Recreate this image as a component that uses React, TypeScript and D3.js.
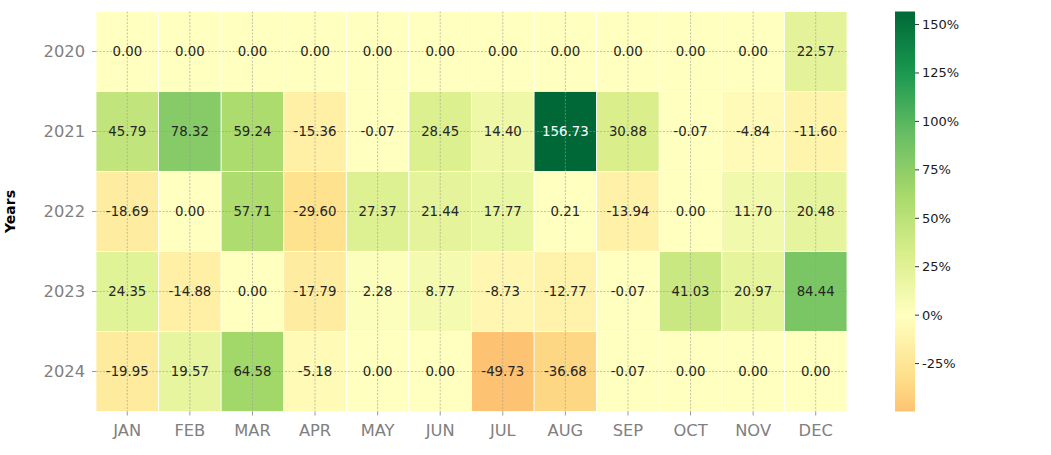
import React from "react";
import * as d3 from "d3";

const months = ["JAN", "FEB", "MAR", "APR", "MAY", "JUN", "JUL", "AUG", "SEP", "OCT", "NOV", "DEC"];
const years = ["2020", "2021", "2022", "2023", "2024"];
const r2020 = [0, 0, 0, 0, 0, 0, 0, 0, 0, 0, 0, 22.57];
const r2021 = [45.79, 78.32, 59.24, -15.36, -0.07, 28.45, 14.4, 156.73, 30.88, -0.07, -4.84, -11.6];
const r2022 = [-18.69, 0.0, 57.71, -29.6, 27.37, 21.44, 17.77, 0.21, -13.94, 0.0, 11.7, 20.48];
const r2023 = [24.35, -14.88, 0.0, -17.79, 2.28, 8.77, -8.73, -12.77, -0.07, 41.03, 20.97, 84.44];
const r2024 = [-19.95, 19.57, 64.58, -5.18, 0, 0, -49.73, -36.68, -0.07, 0, 0, 0];
const rows = [r2020, r2021, r2022, r2023, r2024];
const cbTicks = [-25, 0, 25, 50, 75, 100, 125, 150];

const rdylgn = ["#a50026", "#d73027", "#f46d43", "#fdae61", "#fee08b", "#ffffbf", "#d9ef8b", "#a6d96a", "#66bd63", "#1a9850", "#006837"];

export default function App() {
  const W = 1051, H = 455;
  const left = 96, right = 847, top = 11.5, bottom = 411.5;
  const all = rows.flat();
  const vmin = d3.min(all)!, vmax = d3.max(all)!;
  const center = 0;
  const vr = Math.max(vmax - center, center - vmin);

  const cmap = d3.scaleLinear<string>()
    .domain(rdylgn.map((_, i) => i / (rdylgn.length - 1)))
    .range(rdylgn)
    .interpolate(d3.interpolateRgb)
    .clamp(true);
  const color = (v: number) => cmap(0.5 + (v - center) / (2 * vr));

  const x = d3.scaleBand().domain(months).range([left, right]);
  const y = d3.scaleBand().domain(years).range([top, bottom]);

  const cbX = 895, cbW = 20;
  const cbY = d3.scaleLinear().domain([vmin, vmax]).range([bottom, top]);

  const lum = (c: string) => {
    const rgb = d3.rgb(c);
    const f = (u: number) => {
      u /= 255;
      return u <= 0.03928 ? u / 12.92 : Math.pow((u + 0.055) / 1.055, 2.4);
    };
    return 0.2126 * f(rgb.r) + 0.7152 * f(rgb.g) + 0.0722 * f(rgb.b);
  };

  const stops = d3.range(0, 101).map((i) => {
    const v = vmin + (vmax - vmin) * (i / 100);
    return { off: i, c: color(v) };
  });

  const font = "DejaVu Sans, sans-serif";
  const gray = "#808080";

  return (
    <svg width={W} height={H} style={{ position: "absolute", left: 0, top: 0 }} fontFamily={font}>
      <rect x={0} y={0} width={W} height={H} fill="#fff" />
      <defs>
        <linearGradient id="cbg" x1="0" y1="1" x2="0" y2="0">
          {stops.map((s) => (
            <stop key={s.off} offset={`${s.off}%`} stopColor={s.c} />
          ))}
        </linearGradient>
      </defs>
      {rows.map((r, i) =>
        r.map((v, j) => (
          <rect
            key={`c${i}-${j}`}
            x={x(months[j])!}
            y={y(years[i])!}
            width={x.bandwidth()}
            height={y.bandwidth()}
            fill={color(v)}
            stroke="#fff"
            strokeWidth={0.8}
          />
        ))
      )}
      {months.map((m) => (
        <line key={`gv${m}`} x1={x(m)! + x.bandwidth() / 2} x2={x(m)! + x.bandwidth() / 2} y1={top} y2={bottom}
          stroke="#9a9a9a" strokeWidth={0.6} strokeDasharray="2,1.5" />
      ))}
      {years.map((yr) => (
        <line key={`gh${yr}`} y1={y(yr)! + y.bandwidth() / 2} y2={y(yr)! + y.bandwidth() / 2} x1={left} x2={right}
          stroke="#9a9a9a" strokeWidth={0.6} strokeDasharray="2,1.5" />
      ))}
      {rows.map((r, i) =>
        r.map((v, j) => (
          <text
            key={`t${i}-${j}`}
            x={x(months[j])! + x.bandwidth() / 2}
            y={y(years[i])! + y.bandwidth() / 2}
            textAnchor="middle"
            dominantBaseline="central"
            fontSize={13.3}
            fill={lum(color(v)) < 0.408 ? "#fff" : "#262626"}
          >
            {v.toFixed(2)}
          </text>
        ))
      )}
      {months.map((m) => (
        <g key={`xt${m}`}>
          <line x1={x(m)! + x.bandwidth() / 2} x2={x(m)! + x.bandwidth() / 2} y1={bottom} y2={bottom + 4} stroke={gray} strokeWidth={0.8} />
          <text x={x(m)! + x.bandwidth() / 2} y={bottom + 19} textAnchor="middle" dominantBaseline="central" fontSize={16.3} fill={gray}>
            {m}
          </text>
        </g>
      ))}
      {years.map((yr) => (
        <g key={`yt${yr}`}>
          <line x1={left - 4} x2={left} y1={y(yr)! + y.bandwidth() / 2} y2={y(yr)! + y.bandwidth() / 2} stroke={gray} strokeWidth={0.8} />
          <text x={left - 11} y={y(yr)! + y.bandwidth() / 2} textAnchor="end" dominantBaseline="central" fontSize={16.3} fill={gray}>
            {yr}
          </text>
        </g>
      ))}
      <text transform={`translate(10,${(top + bottom) / 2}) rotate(-90)`} textAnchor="middle" dominantBaseline="central"
        fontSize={14} fontWeight="bold" fill="#000">
        Years
      </text>
      <rect x={cbX} y={top} width={cbW} height={bottom - top} fill="url(#cbg)" />
      {cbTicks.map((t) => (
        <g key={`cb${t}`}>
          <line x1={cbX + cbW} x2={cbX + cbW + 4} y1={cbY(t)} y2={cbY(t)} stroke="#000" strokeWidth={0.8} />
          <text x={cbX + cbW + 7} y={cbY(t)} dominantBaseline="central" fontSize={13} fill="#1a1a1a">
            {`${t}%`}
          </text>
        </g>
      ))}
    </svg>
  );
}
